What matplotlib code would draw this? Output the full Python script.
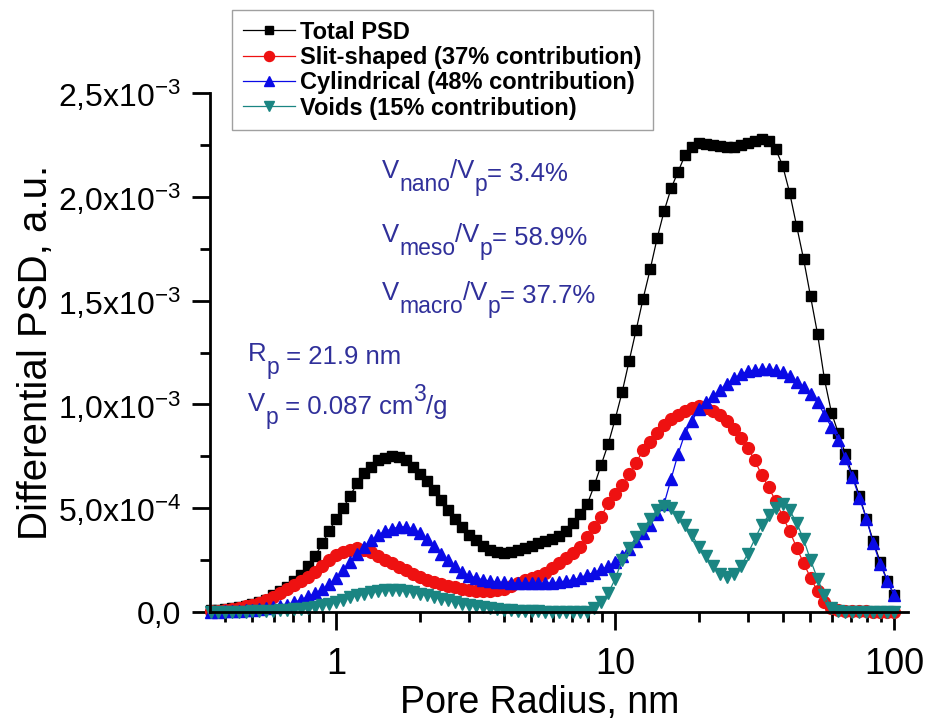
import numpy as np
import matplotlib
matplotlib.use('Agg')
import matplotlib.pyplot as plt
from matplotlib.ticker import FixedLocator, FixedFormatter, LogLocator, NullFormatter

plt.rcParams['font.family'] = ['Liberation Sans', 'DejaVu Sans']
plt.rcParams['mathtext.fontset'] = 'custom'
plt.rcParams['mathtext.rm'] = 'Liberation Sans'
plt.rcParams['mathtext.it'] = 'Liberation Sans:italic'
plt.rcParams['mathtext.bf'] = 'Liberation Sans:bold'
plt.rcParams['mathtext.default'] = 'regular'

# pore radius grid, nm
radius = [0.3548, 0.3758, 0.3981, 0.4217, 0.4467, 0.4732, 0.5012, 0.5309, 0.5623, 0.5957,
          0.6310, 0.6683, 0.7079, 0.7499, 0.7943, 0.8414, 0.8913, 0.9441, 1.000, 1.059,
          1.122, 1.189, 1.259, 1.334, 1.413, 1.496, 1.585, 1.679, 1.778, 1.884,
          1.995, 2.113, 2.239, 2.371, 2.512, 2.661, 2.818, 2.985, 3.162, 3.350,
          3.548, 3.758, 3.981, 4.217, 4.467, 4.732, 5.012, 5.309, 5.623, 5.957,
          6.310, 6.683, 7.079, 7.499, 7.943, 8.414, 8.913, 9.441, 10.00, 10.59,
          11.22, 11.89, 12.59, 13.34, 14.13, 14.96, 15.85, 16.79, 17.78, 18.84,
          19.95, 21.13, 22.39, 23.71, 25.12, 26.61, 28.18, 29.85, 31.62, 33.50,
          35.48, 37.58, 39.81, 42.17, 44.67, 47.32, 50.12, 53.09, 56.23, 59.57,
          63.10, 66.83, 70.79, 74.99, 79.43, 84.14, 89.13, 94.41, 100.0]

# differential PSD, x1e-3 a.u.
total_psd = [0.010, 0.012, 0.015, 0.020, 0.025, 0.030, 0.040, 0.050, 0.060, 0.080,
             0.100, 0.120, 0.150, 0.180, 0.220, 0.270, 0.330, 0.390, 0.450, 0.500,
             0.560, 0.620, 0.670, 0.700, 0.730, 0.740, 0.750, 0.745, 0.730, 0.700,
             0.665, 0.630, 0.590, 0.540, 0.490, 0.450, 0.410, 0.370, 0.345, 0.320,
             0.300, 0.290, 0.285, 0.290, 0.300, 0.310, 0.320, 0.330, 0.340, 0.350,
             0.365, 0.390, 0.430, 0.470, 0.520, 0.610, 0.710, 0.810, 0.930, 1.060,
             1.210, 1.360, 1.510, 1.650, 1.800, 1.930, 2.040, 2.120, 2.200, 2.240,
             2.260, 2.255, 2.250, 2.245, 2.240, 2.240, 2.250, 2.260, 2.270, 2.280,
             2.270, 2.230, 2.150, 2.020, 1.860, 1.700, 1.520, 1.340, 1.120, 0.960,
             0.860, 0.760, 0.660, 0.560, 0.450, 0.340, 0.240, 0.150, 0.080]

slit = [0.003, 0.006, 0.010, 0.015, 0.020, 0.027, 0.035, 0.045, 0.058, 0.072,
        0.090, 0.110, 0.130, 0.150, 0.170, 0.195, 0.220, 0.250, 0.275, 0.290,
        0.300, 0.310, 0.300, 0.290, 0.270, 0.250, 0.235, 0.215, 0.200, 0.185,
        0.170, 0.155, 0.145, 0.135, 0.125, 0.120, 0.110, 0.105, 0.100, 0.100,
        0.100, 0.105, 0.110, 0.125, 0.140, 0.155, 0.165, 0.175, 0.190, 0.210,
        0.235, 0.260, 0.285, 0.315, 0.360, 0.410, 0.460, 0.525, 0.570, 0.610,
        0.665, 0.720, 0.780, 0.820, 0.860, 0.900, 0.930, 0.950, 0.970, 0.985,
        0.990, 0.985, 0.970, 0.950, 0.920, 0.880, 0.840, 0.790, 0.730, 0.660,
        0.600, 0.535, 0.460, 0.390, 0.310, 0.235, 0.165, 0.100, 0.050, 0.020,
        0.008, 0.005, 0.004, 0.003, 0.003, 0.002, 0.002, 0.002, 0.002]

cylindrical = [0.000, 0.002, 0.003, 0.004, 0.006, 0.008, 0.010, 0.013, 0.017, 0.022,
               0.028, 0.036, 0.047, 0.060, 0.075, 0.090, 0.110, 0.135, 0.165, 0.200,
               0.240, 0.280, 0.315, 0.345, 0.370, 0.390, 0.400, 0.410, 0.410, 0.400,
               0.380, 0.350, 0.320, 0.280, 0.250, 0.220, 0.195, 0.175, 0.165, 0.155,
               0.150, 0.145, 0.143, 0.140, 0.140, 0.140, 0.140, 0.140, 0.140, 0.140,
               0.145, 0.150, 0.155, 0.165, 0.180, 0.190, 0.205, 0.220, 0.240, 0.270,
               0.305, 0.340, 0.380, 0.420, 0.470, 0.520, 0.640, 0.760, 0.860, 0.920,
               0.980, 1.010, 1.040, 1.070, 1.100, 1.125, 1.145, 1.160, 1.165, 1.170,
               1.170, 1.165, 1.155, 1.135, 1.110, 1.085, 1.050, 1.010, 0.950, 0.890,
               0.830, 0.740, 0.650, 0.550, 0.450, 0.330, 0.230, 0.150, 0.080]

voids = [0.000, 0.000, 0.001, 0.001, 0.002, 0.002, 0.003, 0.004, 0.005, 0.006,
         0.008, 0.010, 0.013, 0.016, 0.020, 0.025, 0.032, 0.040, 0.050, 0.060,
         0.070, 0.080, 0.088, 0.095, 0.100, 0.105, 0.107, 0.105, 0.100, 0.095,
         0.088, 0.080, 0.072, 0.064, 0.056, 0.048, 0.040, 0.034, 0.028, 0.022,
         0.018, 0.014, 0.011, 0.008, 0.006, 0.005, 0.004, 0.003, 0.002, 0.002,
         0.002, 0.001, 0.001, 0.001, 0.002, 0.020, 0.050, 0.090, 0.160, 0.250,
         0.310, 0.360, 0.400, 0.450, 0.490, 0.510, 0.500, 0.460, 0.420, 0.370,
         0.315, 0.270, 0.220, 0.185, 0.170, 0.185, 0.220, 0.280, 0.350, 0.420,
         0.465, 0.500, 0.520, 0.490, 0.430, 0.350, 0.250, 0.160, 0.080, 0.020,
         0.005, 0.002, 0.002, 0.002, 0.002, 0.002, 0.002, 0.002, 0.002]

y_ticks = [0, 0.5e-3, 1.0e-3, 1.5e-3, 2.0e-3, 2.5e-3]
y_tick_labels = ['0,0', '5,0x10$^{-4}$', '1,0x10$^{-3}$', '1,5x10$^{-3}$',
                 '2,0x10$^{-3}$', '2,5x10$^{-3}$']

r = np.array(radius)
scale = 1e-3

fig = plt.figure(figsize=(9.27, 7.22), dpi=100)
ax = fig.add_axes([210/927, 110/722, 698/927, 519/722])

series = [
    (total_psd, 's', 'black', 6.5, 'Total PSD'),
    (slit, 'o', '#ee1111', 8.5, 'Slit-shaped (37% contribution)'),
    (cylindrical, '^', '#0a0ae6', 8.5, 'Cylindrical (48% contribution)'),
    (voids, 'v', '#1a8582', 8.5, 'Voids (15% contribution)'),
]
for vals, mk, col, ms, lab in series:
    ax.plot(r, np.array(vals) * scale, marker=mk, color=col, ms=ms, lw=0.9,
            mec=col, mfc=col, label=lab, clip_on=False)

ax.set_xscale('log')
ax.set_xlim(0.353, 112)
ax.set_ylim(0, 2.5e-3)

ax.spines['top'].set_visible(False)
ax.spines['right'].set_visible(False)
for s in ('left', 'bottom'):
    ax.spines[s].set_linewidth(2.0)

ax.yaxis.set_major_locator(FixedLocator(y_ticks))
ax.yaxis.set_major_formatter(FixedFormatter(y_tick_labels))
ax.yaxis.set_minor_locator(FixedLocator([0.25e-3, 0.75e-3, 1.25e-3, 1.75e-3, 2.25e-3]))
ax.xaxis.set_major_locator(FixedLocator([1, 10, 100]))
ax.xaxis.set_major_formatter(FixedFormatter(['1', '10', '100']))
ax.xaxis.set_minor_locator(LogLocator(base=10, subs=np.arange(2, 10)))
ax.xaxis.set_minor_formatter(NullFormatter())

ax.tick_params(which='major', direction='out', length=13, width=2.0)
ax.tick_params(which='minor', direction='out', length=7, width=2.0)
ax.tick_params(axis='y', which='major', labelsize=23, pad=8)
ax.tick_params(axis='x', which='major', labelsize=26, pad=12)

ax.set_xlabel('Pore Radius, nm', fontsize=27)
ax.xaxis.set_label_coords(0.473, -0.14)
ax.set_ylabel('Differential PSD, a.u.', fontsize=29)
ax.yaxis.set_label_coords(-0.222, 0.5)

leg = ax.legend(loc='upper left', bbox_to_anchor=(232/927, 1 - 10/722),
                bbox_transform=fig.transFigure, frameon=True, fancybox=False,
                borderaxespad=0, borderpad=0.45, handlelength=2.2, handletextpad=0.25,
                labelspacing=0.1, numpoints=1, markerscale=0.85,
                prop={'weight': 'bold', 'size': 17})
leg.get_frame().set_edgecolor('#888888')
leg.get_frame().set_linewidth(1.0)

ann = '#30309a'
renderer = fig.canvas.get_renderer()


def rich_text(x_px, base_px, parts, size=18.5, subsize=16.5):
    # parts: (text, shift in px below baseline, small font?)
    x = x_px
    for txt, shift, small in parts:
        fs = subsize if small else size
        t = fig.text(x / 927, 1 - (base_px + shift) / 722, txt, color=ann,
                     fontsize=fs, va='baseline', ha='left')
        x += t.get_window_extent(renderer).width


rich_text(382, 178, [('V', 0, False), ('nano', 13, True), ('/V', 0, False),
                     ('p', 13, True), ('= 3.4%', 3, False)])
rich_text(382, 242, [('V', 0, False), ('meso', 13, True), ('/V', 0, False),
                     ('p', 13, True), ('= 58.9%', 3, False)])
rich_text(382, 300, [('V', 0, False), ('macro', 13, True), ('/V', 0, False),
                     ('p', 13, True), ('= 37.7%', 3, False)])
rich_text(248, 361, [('R', 0, False), ('p', 13, True), (' = 21.9 nm', 3, False)])
rich_text(248, 411, [('V', 0, False), ('p', 13, True), (' = 0.087 cm', 3, False),
                     ('3', -10, True), ('/g', 3, False)])

fig.savefig('out.png', dpi=100)
